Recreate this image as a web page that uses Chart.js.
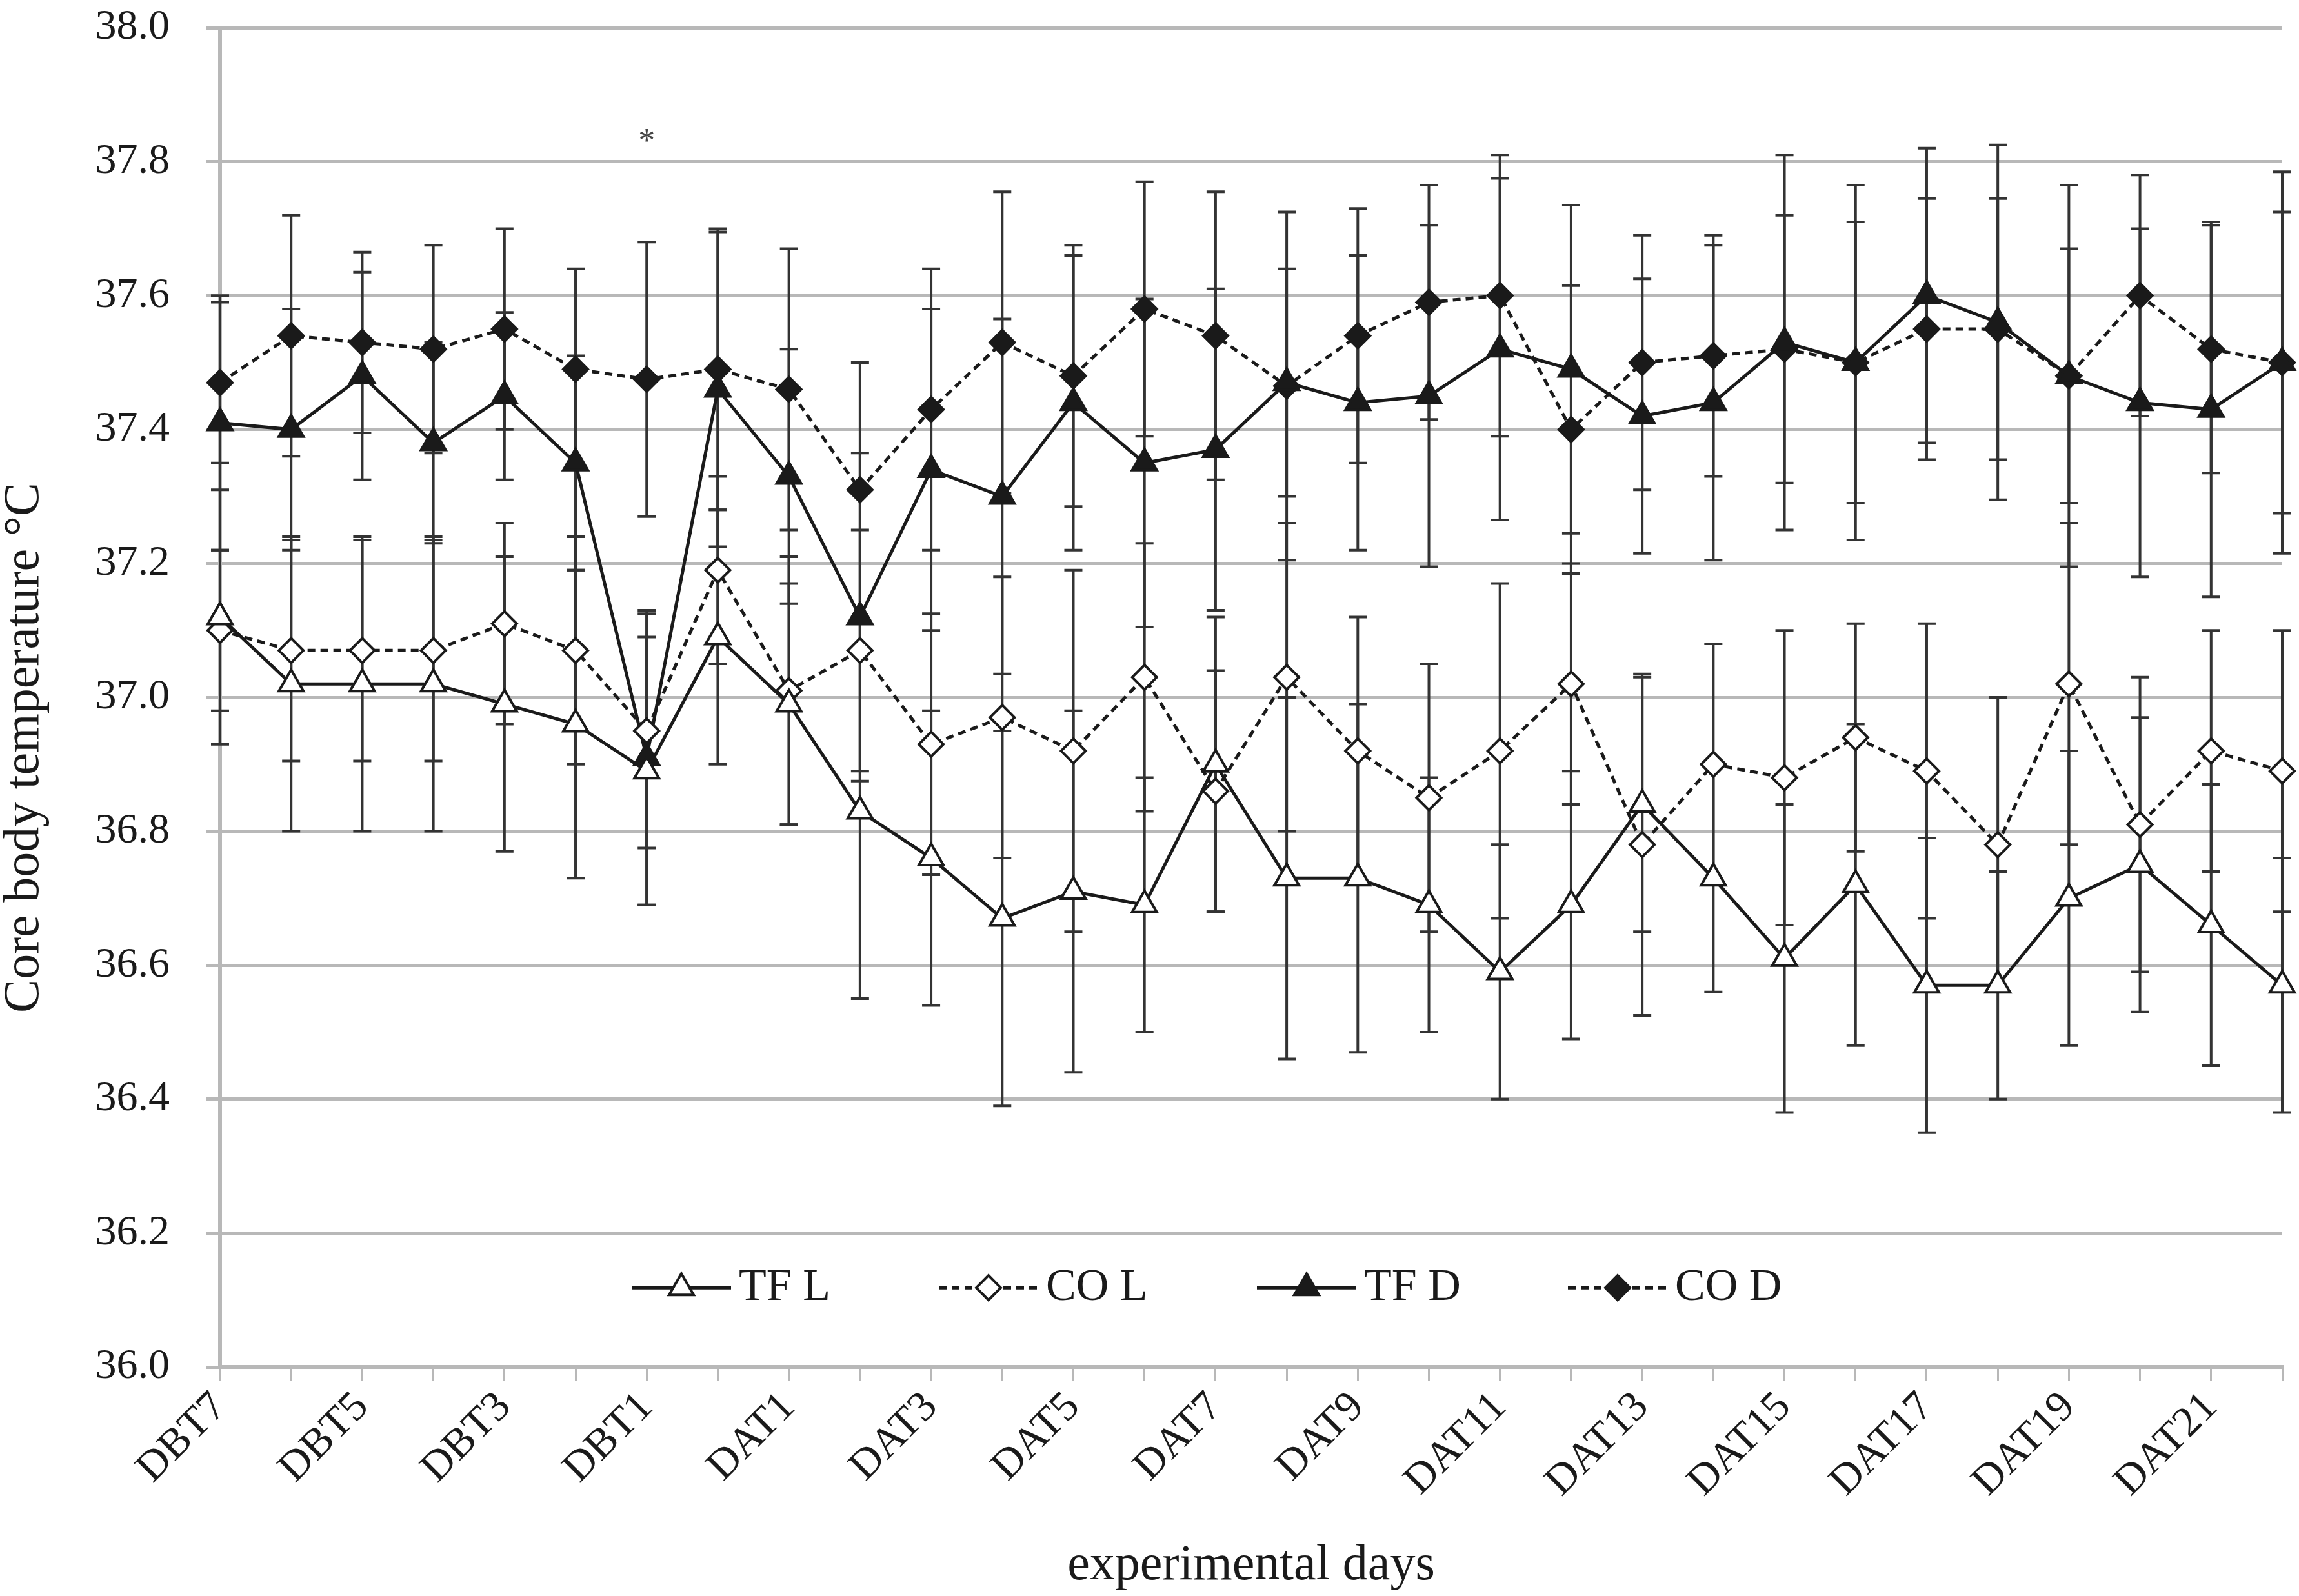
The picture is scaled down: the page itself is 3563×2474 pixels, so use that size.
<!DOCTYPE html>
<html>
<head>
<meta charset="utf-8">
<script src="https://cdn.jsdelivr.net/npm/chart.js@4.4.0/dist/chart.umd.min.js"></script>
<style>
  html, body { margin: 0; padding: 0; background: #fff; }
  canvas { display: block; }
</style>
</head>
<body>
<canvas id="chart" width="3563" height="2474"></canvas>
<script>
// categories: days before treatment, the transfer day, days after treatment
const days = ['DBT7', 'DBT6', 'DBT5', 'DBT4', 'DBT3', 'DBT2', 'DBT1', 'DT',
  'DAT1', 'DAT2', 'DAT3', 'DAT4', 'DAT5', 'DAT6', 'DAT7', 'DAT8', 'DAT9', 'DAT10',
  'DAT11', 'DAT12', 'DAT13', 'DAT14', 'DAT15', 'DAT16', 'DAT17', 'DAT18', 'DAT19',
  'DAT20', 'DAT21', 'DAT22'];

// means
const tfL = [37.12, 37.02, 37.02, 37.02, 36.99, 36.96, 36.89, 37.09, 36.99, 36.83,
  36.76, 36.67, 36.71, 36.69, 36.90, 36.73, 36.73, 36.69, 36.59, 36.69,
  36.84, 36.73, 36.61, 36.72, 36.57, 36.57, 36.70, 36.75, 36.66, 36.57];
const coL = [37.10, 37.07, 37.07, 37.07, 37.11, 37.07, 36.95, 37.19, 37.01, 37.07,
  36.93, 36.97, 36.92, 37.03, 36.86, 37.03, 36.92, 36.85, 36.92, 37.02,
  36.78, 36.90, 36.88, 36.94, 36.89, 36.78, 37.02, 36.81, 36.92, 36.89];
const tfD = [37.41, 37.40, 37.48, 37.38, 37.45, 37.35, 36.91, 37.46, 37.33, 37.12,
  37.34, 37.30, 37.44, 37.35, 37.37, 37.47, 37.44, 37.45, 37.52, 37.49,
  37.42, 37.44, 37.53, 37.50, 37.60, 37.56, 37.48, 37.44, 37.43, 37.50];
const coD = [37.47, 37.54, 37.53, 37.52, 37.55, 37.49, 37.475, 37.49, 37.46, 37.31,
  37.43, 37.53, 37.48, 37.58, 37.54, 37.465, 37.54, 37.59, 37.60, 37.40,
  37.50, 37.51, 37.52, 37.50, 37.55, 37.55, 37.48, 37.60, 37.52, 37.50];

// error bar half lengths (symmetric)
const tfLErr = [0.19, 0.22, 0.22, 0.22, 0.22, 0.23, 0.20, 0.19, 0.18, 0.28,
  0.22, 0.28, 0.27, 0.19, 0.22, 0.27, 0.26, 0.19, 0.19, 0.20,
  0.19, 0.17, 0.23, 0.24, 0.22, 0.17, 0.22, 0.22, 0.21, 0.19];
const coLErr = [0.12, 0.165, 0.165, 0.165, 0.15, 0.17, 0.175, 0.14, 0.20, 0.18,
  0.195, 0.21, 0.27, 0.20, 0.18, 0.23, 0.20, 0.20, 0.25, 0.18,
  0.255, 0.18, 0.22, 0.17, 0.22, 0.22, 0.24, 0.22, 0.18, 0.21];
const tfDErr = [0.19, 0.18, 0.155, 0.15, 0.125, 0.16, 0.22, 0.235, 0.19, 0.245,
  0.24, 0.265, 0.22, 0.245, 0.24, 0.17, 0.22, 0.255, 0.255, 0.245,
  0.205, 0.235, 0.28, 0.265, 0.22, 0.265, 0.285, 0.26, 0.28, 0.285];
const coDErr = [0.12, 0.18, 0.135, 0.155, 0.15, 0.15, 0.205, 0.21, 0.21, 0.19,
  0.21, 0.225, 0.195, 0.19, 0.215, 0.26, 0.19, 0.175, 0.21, 0.215,
  0.19, 0.18, 0.20, 0.21, 0.195, 0.195, 0.19, 0.18, 0.185, 0.225];

// significance mark
const starIndex = 6;
const starValue = 37.84;

const FONT = '"Liberation Serif", "DejaVu Serif", serif';
const INK = '#1a1a1a';
const GRID = '#b8b8b8';

// vertical error bars, drawn under the markers
const errorBars = {
  id: 'errorBars',
  beforeDatasetsDraw(chart) {
    const ctx = chart.ctx;
    const yScale = chart.scales.y;
    ctx.save();
    ctx.strokeStyle = '#333';
    ctx.lineWidth = 4;
    ctx.setLineDash([]);
    chart.data.datasets.forEach((ds, di) => {
      const meta = chart.getDatasetMeta(di);
      meta.data.forEach((pt, i) => {
        const v = ds.data[i];
        const e = ds.errors[i];
        const top = yScale.getPixelForValue(v + e);
        const bot = yScale.getPixelForValue(v - e);
        ctx.beginPath();
        ctx.moveTo(pt.x, top);
        ctx.lineTo(pt.x, bot);
        ctx.moveTo(pt.x - 14, top);
        ctx.lineTo(pt.x + 14, top);
        ctx.moveTo(pt.x - 14, bot);
        ctx.lineTo(pt.x + 14, bot);
        ctx.stroke();
      });
    });
    ctx.restore();
  }
};

function marker(ctx, style, x, y, r, fill) {
  ctx.beginPath();
  if (style === 'triangle') {
    ctx.moveTo(x, y - r);
    ctx.lineTo(x + r * 0.866, y + r / 2);
    ctx.lineTo(x - r * 0.866, y + r / 2);
  } else {
    ctx.moveTo(x - r, y);
    ctx.lineTo(x, y - r);
    ctx.lineTo(x + r, y);
    ctx.lineTo(x, y + r);
  }
  ctx.closePath();
  ctx.fillStyle = fill;
  ctx.fill();
  ctx.lineWidth = 4;
  ctx.strokeStyle = INK;
  ctx.stroke();
}

// legend inside the plot area plus the asterisk
const inlineLegend = {
  id: 'inlineLegend',
  afterDraw(chart) {
    const ctx = chart.ctx;
    const area = chart.chartArea;
    const xs = chart.scales.x;
    const ys = chart.scales.y;
    ctx.save();

    const ly = ys.getPixelForValue(36.1) - 19;
    const items = [
      { x: 979, dash: [], style: 'triangle', fill: '#fff', r: 22, text: 'TF L' },
      { x: 1455, dash: [12, 8], style: 'rectRot', fill: '#fff', r: 19, text: 'CO L' },
      { x: 1948, dash: [], style: 'triangle', fill: INK, r: 22, text: 'TF D' },
      { x: 2430, dash: [12, 8], style: 'rectRot', fill: INK, r: 19, text: 'CO D' }
    ];
    items.forEach((it) => {
      const x0 = area.left + (it.x - 341);
      ctx.strokeStyle = INK;
      ctx.lineWidth = 5;
      ctx.setLineDash(it.dash);
      ctx.beginPath();
      ctx.moveTo(x0, ly);
      ctx.lineTo(x0 + 154, ly);
      ctx.stroke();
      ctx.setLineDash([]);
      marker(ctx, it.style, x0 + 77, ly, it.r, it.fill);
      ctx.fillStyle = INK;
      ctx.font = '70px ' + FONT;
      ctx.textAlign = 'left';
      ctx.textBaseline = 'middle';
      ctx.fillText(it.text, x0 + 166, ly);
    });

    ctx.fillStyle = '#444';
    ctx.font = '52px ' + FONT;
    ctx.textAlign = 'center';
    ctx.textBaseline = 'middle';
    ctx.fillText('*', xs.getPixelForValue(starIndex), ys.getPixelForValue(starValue) + 12);
    ctx.restore();
  }
};

const lineSet = (label, data, errors, style, fill, dash, r) => ({
  label: label,
  data: data,
  errors: errors,
  borderColor: INK,
  borderWidth: 5,
  borderDash: dash,
  tension: 0,
  fill: false,
  pointStyle: style,
  pointRadius: r,
  pointBackgroundColor: fill,
  pointBorderColor: INK,
  pointBorderWidth: 4
});

new Chart(document.getElementById('chart'), {
  type: 'line',
  data: {
    labels: days,
    datasets: [
      lineSet('TF L', tfL, tfLErr, 'triangle', '#fff', [], 22),
      lineSet('CO L', coL, coLErr, 'rectRot', '#fff', [12, 8], 19),
      lineSet('TF D', tfD, tfDErr, 'triangle', INK, [], 22),
      lineSet('CO D', coD, coDErr, 'rectRot', INK, [12, 8], 19)
    ]
  },
  options: {
    responsive: false,
    devicePixelRatio: 1,
    animation: false,
    layout: { padding: { left: 0, right: 23, top: 43, bottom: 0 } },
    plugins: {
      legend: { display: false },
      tooltip: { enabled: false }
    },
    scales: {
      x: {
        offset: false,
        grid: {
          drawOnChartArea: false,
          color: GRID,
          lineWidth: 3,
          tickLength: 22
        },
        border: { color: GRID, width: 6 },
        ticks: {
          autoSkip: false,
          minRotation: 45,
          maxRotation: 45,
          padding: 2,
          color: INK,
          font: { family: FONT, size: 66 },
          callback: function (value, index) {
            return index % 2 === 0 ? days[index] : '';
          }
        },
        title: {
          display: true,
          text: 'experimental days',
          color: INK,
          padding: { top: 0, bottom: 4 },
          font: { family: FONT, size: 78, lineHeight: 1.1 }
        },
        afterFit: function (scale) {
          scale.height = 355;
          scale.paddingLeft = 0;
          scale.paddingRight = 0;
        }
      },
      y: {
        min: 36,
        max: 38,
        grid: {
          color: GRID,
          lineWidth: 5,
          tickLength: 22
        },
        border: { color: GRID, width: 6 },
        ticks: {
          stepSize: 0.2,
          padding: 56,
          color: INK,
          font: { family: FONT, size: 66 },
          callback: function (value) { return value.toFixed(1); }
        },
        title: {
          display: true,
          text: 'Core body temperature °C\u2002\u2002\u2002\u2002',
          color: INK,
          padding: { top: 0, bottom: 0 },
          font: { family: FONT, size: 78, lineHeight: 1.0 }
        },
        afterFit: function (scale) {
          scale.width = 341;
          scale.paddingTop = 0;
          scale.paddingBottom = 0;
        }
      }
    }
  },
  plugins: [errorBars, inlineLegend]
});
</script>
</body>
</html>
